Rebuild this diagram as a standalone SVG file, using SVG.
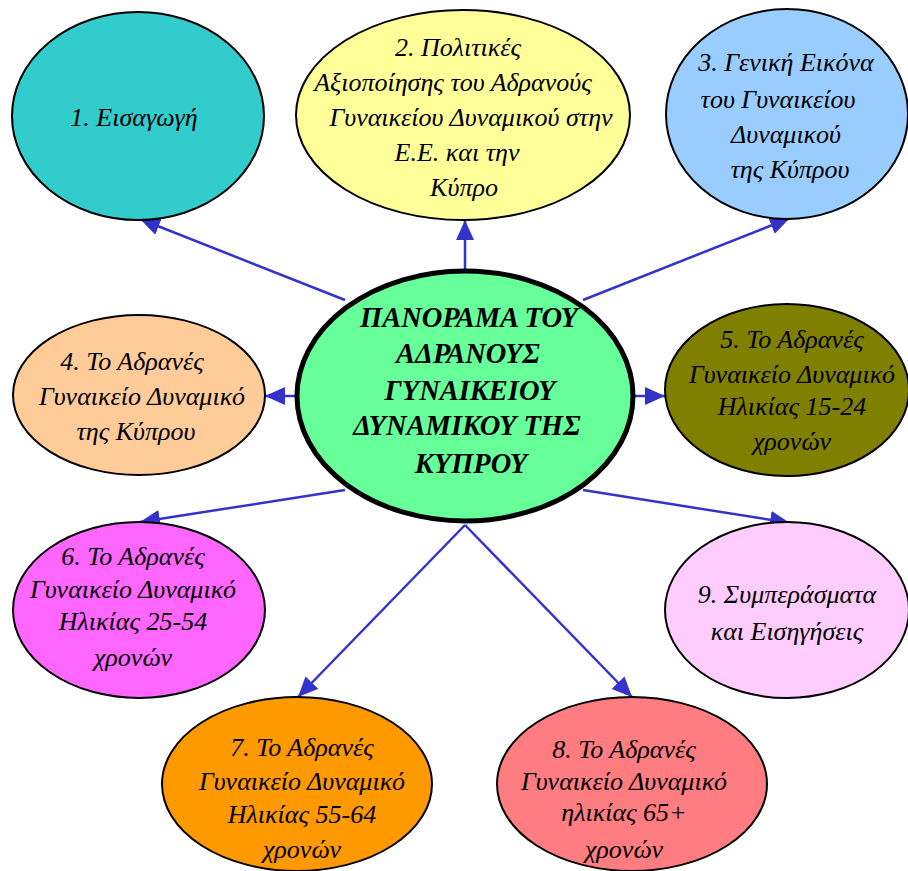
<svg xmlns="http://www.w3.org/2000/svg" width="908" height="871" viewBox="0 0 908 871">
<style>
.n{stroke:#000;stroke-width:2}
.c{stroke:#000;stroke-width:5}
.t{font-family:"Liberation Serif","DejaVu Serif",serif;font-style:italic;font-size:26px;fill:#000;text-anchor:middle}
.tc{font-family:"Liberation Serif","DejaVu Serif",serif;font-style:italic;font-weight:bold;font-size:28.5px;fill:#000;text-anchor:middle}
.e{stroke:#3333CC;stroke-width:2.5;fill:none;marker-end:url(#ah)}
</style>
<defs>
<marker id="ah" markerUnits="userSpaceOnUse" markerWidth="22" markerHeight="20" refX="20" refY="9" orient="auto">
<path d="M0,0 L20,9 L0,18 Z" fill="#3333CC"/>
</marker>
</defs>
<rect width="908" height="871" fill="#fff"/>
<g id="connectors">
<line class="e" x1="345" y1="300" x2="140" y2="219"/>
<line class="e" x1="465" y1="270" x2="465" y2="220"/>
<line class="e" x1="583" y1="300" x2="790" y2="218"/>
<line class="e" x1="296" y1="396" x2="265" y2="396"/>
<line class="e" x1="634" y1="396" x2="665" y2="396"/>
<line class="e" x1="345" y1="490" x2="140" y2="522"/>
<line class="e" x1="583" y1="490" x2="790" y2="523"/>
<line class="e" x1="465" y1="525" x2="298" y2="697"/>
<line class="e" x1="465" y1="525" x2="632" y2="697"/>
</g>
<g id="node1">
<ellipse class="n" cx="138" cy="116" rx="126" ry="104" fill="#33CCCC"/>
<text class="t" x="134" y="126">1. Εισαγωγή</text>
</g>
<g id="node2">
<ellipse class="n" cx="463" cy="115" rx="167" ry="105" fill="#FFFF99"/>
<text class="t"><tspan x="458" y="56">2. Πολιτικές</tspan><tspan x="453" y="91">Αξιοποίησης του Αδρανούς</tspan><tspan x="471" y="126">Γυναικείου Δυναμικού στην</tspan><tspan x="457" y="161">Ε.Ε. και την</tspan><tspan x="464" y="196">Κύπρο</tspan></text>
</g>
<g id="node3">
<ellipse class="n" cx="787" cy="114" rx="121" ry="105" fill="#99CCFF"/>
<text class="t"><tspan x="786" y="71">3. Γενική Εικόνα</tspan><tspan x="778" y="108">του Γυναικείου</tspan><tspan x="786" y="143">Δυναμικού</tspan><tspan x="790" y="178">της Κύπρου</tspan></text>
</g>
<g id="node4">
<ellipse class="n" cx="139" cy="395" rx="126" ry="80" fill="#FFCC99"/>
<text class="t"><tspan x="132" y="370">4. Το Αδρανές</tspan><tspan x="142" y="405">Γυναικείο Δυναμικό</tspan><tspan x="136" y="440">της Κύπρου</tspan></text>
</g>
<g id="center">
<ellipse class="c" cx="465" cy="396" rx="168" ry="125" fill="#66FF99"/>
<text class="tc"><tspan x="469" y="327">ΠΑΝΟΡΑΜΑ ΤΟΥ</tspan><tspan x="468" y="363">ΑΔΡΑΝΟΥΣ</tspan><tspan x="470" y="400">ΓΥΝΑΙΚΕΙΟΥ</tspan><tspan x="467" y="435">ΔΥΝΑΜΙΚΟΥ ΤΗΣ</tspan><tspan x="471" y="473">ΚΥΠΡΟΥ</tspan></text>
</g>
<g id="node5">
<ellipse class="n" cx="787" cy="390" rx="122" ry="86" fill="#808000"/>
<text class="t"><tspan x="792" y="348">5. Το Αδρανές</tspan><tspan x="792" y="383">Γυναικείο Δυναμικό</tspan><tspan x="792" y="415">Ηλικίας 15-24</tspan><tspan x="792" y="450">χρονών</tspan></text>
</g>
<g id="node6">
<ellipse class="n" cx="139" cy="610" rx="126" ry="88" fill="#FF66FF"/>
<text class="t"><tspan x="133" y="565">6. Το Αδρανές</tspan><tspan x="133" y="598">Γυναικείο Δυναμικό</tspan><tspan x="133" y="630">Ηλικίας 25-54</tspan><tspan x="133" y="666">χρονών</tspan></text>
</g>
<g id="node9">
<ellipse class="n" cx="787" cy="610" rx="122" ry="88" fill="#FFCCFF"/>
<text class="t"><tspan x="787" y="603">9. Συμπεράσματα</tspan><tspan x="787" y="640">και Εισηγήσεις</tspan></text>
</g>
<g id="node7">
<ellipse class="n" cx="297" cy="784" rx="135" ry="87" fill="#FF9900"/>
<text class="t"><tspan x="302" y="756">7. Το Αδρανές</tspan><tspan x="302" y="790">Γυναικείο Δυναμικό</tspan><tspan x="302" y="823">Ηλικίας 55-64</tspan><tspan x="302" y="858">χρονών</tspan></text>
</g>
<g id="node8">
<ellipse class="n" cx="632" cy="784" rx="135" ry="87" fill="#FF7C80"/>
<text class="t"><tspan x="624" y="758">8. Το Αδρανές</tspan><tspan x="624" y="790">Γυναικείο Δυναμικό</tspan><tspan x="624" y="821">ηλικίας 65+</tspan><tspan x="624" y="858">χρονών</tspan></text>
</g>
</svg>
